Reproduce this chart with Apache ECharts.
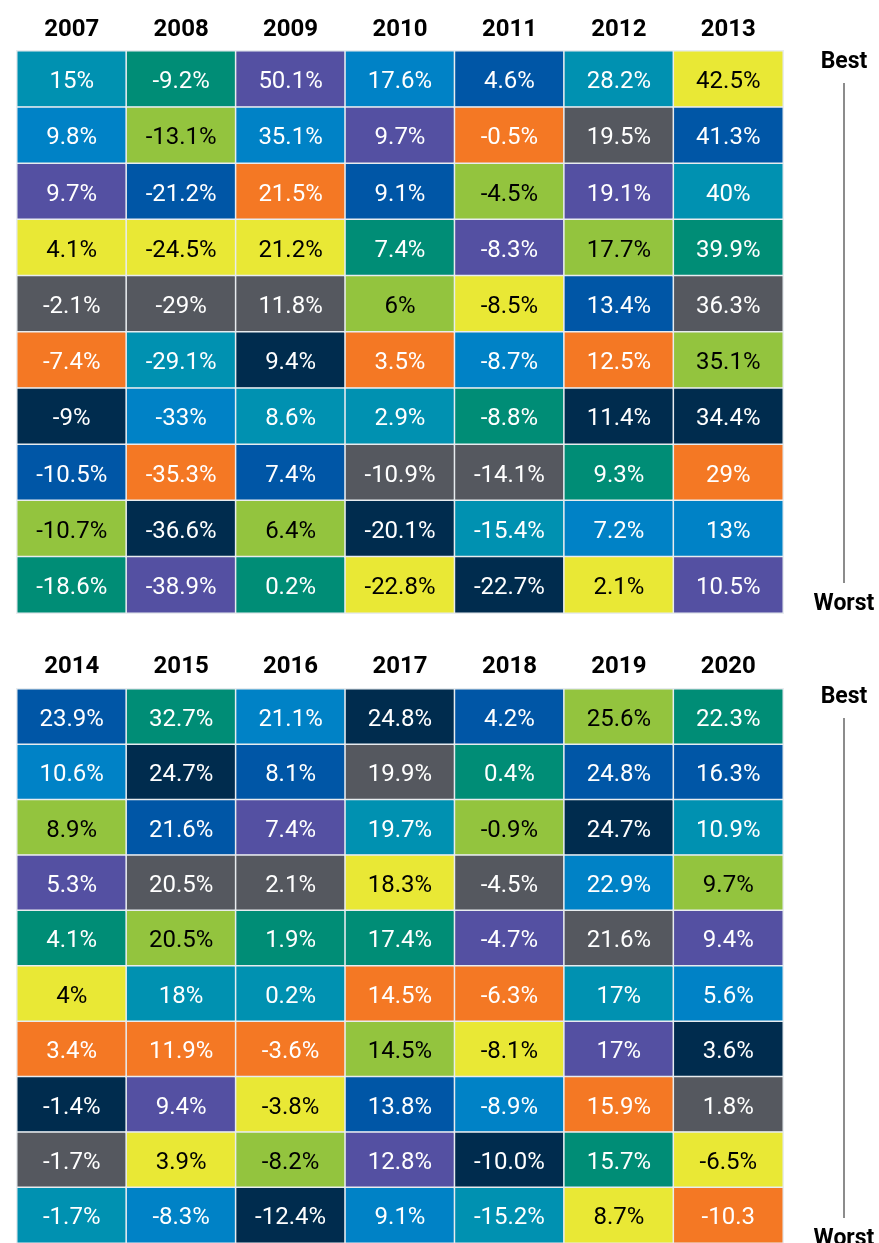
<!DOCTYPE html>
<html>
<head>
<meta charset="utf-8">
<script src="https://cdn.jsdelivr.net/npm/echarts@6/dist/echarts.min.js"></script>
<style>
  html, body { margin: 0; padding: 0; background: #fff; }
  #chart { width: 879px; height: 1243px; }
</style>
</head>
<body>
<div id="chart"></div>
<script>
// asset class colours (one letter per class)
const classColors = {
  T: '#0091b1', G: '#008d76', P: '#5450a2', B: '#0082c6', D: '#0056a6',
  O: '#f47824', L: '#93c43e', Y: '#e9e835', S: '#55585f', N: '#002c4e'
}
const darkText = ['L', 'Y']

// panel 1
const years1 = ['2007', '2008', '2009', '2010', '2011', '2012', '2013']
const returns1 = [
  ['15%', '9.8%', '9.7%', '4.1%', '-2.1%', '-7.4%', '-9%', '-10.5%', '-10.7%', '-18.6%'],
  ['-9.2%', '-13.1%', '-21.2%', '-24.5%', '-29%', '-29.1%', '-33%', '-35.3%', '-36.6%', '-38.9%'],
  ['50.1%', '35.1%', '21.5%', '21.2%', '11.8%', '9.4%', '8.6%', '7.4%', '6.4%', '0.2%'],
  ['17.6%', '9.7%', '9.1%', '7.4%', '6%', '3.5%', '2.9%', '-10.9%', '-20.1%', '-22.8%'],
  ['4.6%', '-0.5%', '-4.5%', '-8.3%', '-8.5%', '-8.7%', '-8.8%', '-14.1%', '-15.4%', '-22.7%'],
  ['28.2%', '19.5%', '19.1%', '17.7%', '13.4%', '12.5%', '11.4%', '9.3%', '7.2%', '2.1%'],
  ['42.5%', '41.3%', '40%', '39.9%', '36.3%', '35.1%', '34.4%', '29%', '13%', '10.5%']
]
const classes1 = [
  ['T', 'B', 'P', 'Y', 'S', 'O', 'N', 'D', 'L', 'G'],
  ['G', 'L', 'D', 'Y', 'S', 'T', 'B', 'O', 'N', 'P'],
  ['P', 'B', 'O', 'Y', 'S', 'N', 'T', 'D', 'L', 'G'],
  ['B', 'P', 'D', 'G', 'L', 'O', 'T', 'S', 'N', 'Y'],
  ['D', 'O', 'L', 'P', 'Y', 'B', 'G', 'S', 'T', 'N'],
  ['T', 'S', 'P', 'L', 'D', 'O', 'N', 'G', 'B', 'Y'],
  ['Y', 'D', 'T', 'G', 'S', 'L', 'N', 'O', 'B', 'P']
]

// panel 2
const years2 = ['2014', '2015', '2016', '2017', '2018', '2019', '2020']
const returns2 = [
  ['23.9%', '10.6%', '8.9%', '5.3%', '4.1%', '4%', '3.4%', '-1.4%', '-1.7%', '-1.7%'],
  ['32.7%', '24.7%', '21.6%', '20.5%', '20.5%', '18%', '11.9%', '9.4%', '3.9%', '-8.3%'],
  ['21.1%', '8.1%', '7.4%', '2.1%', '1.9%', '0.2%', '-3.6%', '-3.8%', '-8.2%', '-12.4%'],
  ['24.8%', '19.9%', '19.7%', '18.3%', '17.4%', '14.5%', '14.5%', '13.8%', '12.8%', '9.1%'],
  ['4.2%', '0.4%', '-0.9%', '-4.5%', '-4.7%', '-6.3%', '-8.1%', '-8.9%', '-10.0%', '-15.2%'],
  ['25.6%', '24.8%', '24.7%', '22.9%', '21.6%', '17%', '17%', '15.9%', '15.7%', '8.7%'],
  ['22.3%', '16.3%', '10.9%', '9.7%', '9.4%', '5.6%', '3.6%', '1.8%', '-6.5%', '-10.3']
]
const classes2 = [
  ['D', 'B', 'L', 'P', 'G', 'Y', 'O', 'N', 'S', 'T'],
  ['G', 'N', 'D', 'S', 'L', 'T', 'O', 'P', 'Y', 'B'],
  ['B', 'D', 'P', 'S', 'G', 'T', 'O', 'Y', 'L', 'N'],
  ['N', 'S', 'T', 'Y', 'G', 'O', 'L', 'D', 'P', 'B'],
  ['D', 'G', 'L', 'S', 'P', 'O', 'Y', 'B', 'N', 'T'],
  ['L', 'D', 'N', 'B', 'S', 'T', 'P', 'O', 'G', 'Y'],
  ['G', 'D', 'T', 'L', 'P', 'B', 'N', 'S', 'Y', 'O']
]

const ranks = ['1', '2', '3', '4', '5', '6', '7', '8', '9', '10']

const FONT = 'Roboto, "DejaVu Sans", sans-serif'

// 构建热力图数据
const buildCells = (returns, classes) => {
  const cells = []
  returns.forEach((col, x) => {
    col.forEach((txt, y) => {
      const cls = classes[x][y]
      cells.push({
        name: txt,
        value: [x, y, parseFloat(txt)],
        itemStyle: { color: classColors[cls] },
        label: { color: darkText.includes(cls) ? '#000' : '#fff' }
      })
    })
  })
  return cells
}

const xAxisFor = (gridIndex, years, margin) => ({
  type: 'category',
  gridIndex,
  position: 'top',
  data: years,
  axisLine: { show: false },
  axisTick: { show: false },
  splitLine: { show: false },
  axisLabel: {
    color: '#000',
    fontFamily: FONT,
    fontWeight: 'bold',
    fontSize: 24,
    margin
  }
})

const yAxisFor = (gridIndex) => ({
  type: 'category',
  gridIndex,
  inverse: true,
  data: ranks,
  show: false
})

const seriesFor = (idx, returns, classes) => ({
  type: 'heatmap',
  xAxisIndex: idx,
  yAxisIndex: idx,
  data: buildCells(returns, classes),
  itemStyle: { borderColor: '#e8ecef', borderWidth: 1.5 },
  label: {
    show: true,
    fontFamily: FONT,
    fontSize: 24,
    offset: [0, 3],
    formatter: p => p.name
  },
  emphasis: { disabled: true }
})

// Best / Worst 标注
const scaleMarks = (top) => [
  {
    type: 'text', x: 844, y: top, style: {
      text: 'Best', x: 0, y: 0, align: 'center', verticalAlign: 'middle',
      font: 'bold 23px ' + FONT, fill: '#000'
    }
  },
  {
    type: 'line', shape: { x1: 844, y1: top + 21, x2: 844, y2: top + 521 },
    style: { stroke: '#666', lineWidth: 1.5 }
  },
  {
    type: 'text', x: 844, y: top + 542, style: {
      text: 'Worst', x: 0, y: 0, align: 'center', verticalAlign: 'middle',
      font: 'bold 23px ' + FONT, fill: '#000'
    }
  }
]

const chart = echarts.init(document.getElementById('chart'))

const option = {
  animation: false,
  backgroundColor: '#fff',
  grid: [
    { left: 17, width: 766, top: 51, height: 562 },
    { left: 17, width: 766, top: 689, height: 556 }
  ],
  xAxis: [xAxisFor(0, years1, 9), xAxisFor(1, years2, 10)],
  yAxis: [yAxisFor(0), yAxisFor(1)],
  series: [seriesFor(0, returns1, classes1), seriesFor(1, returns2, classes2)],
  graphic: [...scaleMarks(62), ...scaleMarks(697)]
}

chart.setOption(option)
window.addEventListener('resize', () => chart.resize())
</script>
</body>
</html>
